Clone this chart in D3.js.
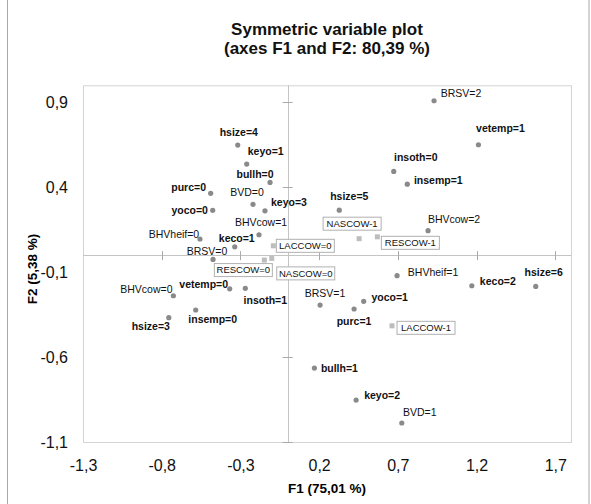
<!DOCTYPE html>
<html>
<head>
<meta charset="utf-8">
<script src="https://cdn.jsdelivr.net/npm/d3@7"></script>
<style>
  body { margin: 0; background: #fff; }
  text { font-family: "Liberation Sans", Arial, sans-serif; }
</style>
</head>
<body>
<div id="chart"></div>
<script>
// Active variable categories (circles)
var catNames = ["hsize=4", "keyo=1", "bullh=0", "purc=0", "BVD=0", "keyo=3", "yoco=0",
  "BHVcow=1", "BHVheif=0", "keco=1", "BRSV=0", "BRSV=2", "vetemp=1", "insoth=0",
  "insemp=1", "hsize=5", "BHVcow=2", "BHVcow=0", "vetemp=0", "insoth=1", "hsize=3",
  "insemp=0", "BRSV=1", "bullh=1", "BHVheif=1", "keco=2", "hsize=6", "yoco=1",
  "purc=1", "keyo=2", "BVD=1"];
var catF1 = [-0.317, -0.260, -0.112, -0.489, -0.220, -0.144, -0.476, -0.182, -0.557, -0.336,
  -0.474, 0.930, 1.212, 0.674, 0.760, 0.328, 0.892, -0.726, -0.368, -0.269, -0.755,
  -0.584, 0.206, 0.170, 0.695, 1.170, 1.576, 0.483, 0.422, 0.435, 0.725];
var catF2 = [0.648, 0.536, 0.428, 0.364, 0.299, 0.261, 0.264, 0.120, 0.095, 0.049,
  -0.025, 0.909, 0.650, 0.493, 0.418, 0.265, 0.144, -0.239, -0.198, -0.195, -0.368,
  -0.323, -0.294, -0.665, -0.121, -0.180, -0.184, -0.272, -0.317, -0.853, -0.988];

// Supplementary categories (squares, boxed labels)
var supNames = ["LACCOW=0", "RESCOW=0", "NASCOW=0", "NASCOW-1", "RESCOW-1", "LACCOW-1"];
var supF1 = [-0.091, -0.148, -0.101, 0.454, 0.570, 0.663];
var supF2 = [0.055, -0.029, -0.019, 0.097, 0.108, -0.416];

var xTicks = [-1.3, -0.8, -0.3, 0.2, 0.7, 1.2, 1.7];
var yTicks = [0.9, 0.4, -0.1, -0.6, -1.1];

// label offsets (px) from the marker
var labelOffset = {
  "hsize=4": [1, -13], "keyo=1": [19, -13], "bullh=0": [-15, -8], "purc=0": [-22, -6],
  "BVD=0": [-6, -12], "keyo=3": [24, -8], "yoco=0": [-23, 0], "BHVcow=1": [2, -12],
  "BHVheif=0": [-26, -5], "keco=1": [2, -9], "BRSV=0": [-6, -8], "BRSV=2": [27, -7],
  "vetemp=1": [22, -16], "insoth=0": [22, -14], "insemp=1": [31, -4], "hsize=5": [10, -14],
  "BHVcow=2": [26, -11], "BHVcow=0": [-27, -6], "vetemp=0": [-26, -4], "insoth=1": [20, 12],
  "hsize=3": [-18, 9], "insemp=0": [17, 9], "BRSV=1": [5, -12], "bullh=1": [25, 0],
  "BHVheif=1": [36, -3], "keco=2": [26, -4], "hsize=6": [8, -14], "yoco=1": [26, -4],
  "purc=1": [0, 12], "keyo=2": [26, -5], "BVD=1": [18, -11],
  "LACCOW=0": [32, 0], "RESCOW=0": [-21, 10], "NASCOW=0": [34, 15],
  "NASCOW-1": [-7, -15], "RESCOW-1": [33, 6], "LACCOW-1": [34, 2]
};

var svgWidth = 591, svgHeight = 504;
var plot = { left: 83, right: 571, top: 85.3, bottom: 442 };

var locale = d3.formatLocale({ decimal: ",", thousands: ".", grouping: [3], currency: ["", ""], minus: "-" });
var fmt = locale.format(".1f");

var svg = d3.select("#chart").append("svg")
  .attr("width", svgWidth)
  .attr("height", svgHeight);

// outer border
svg.append("rect")
  .attr("x", 7.5).attr("y", -2)
  .attr("width", 581.5).attr("height", svgHeight + 4)
  .attr("fill", "none").attr("stroke", "#a8a8a8");

var x = d3.scaleLinear().domain([-1.3, 1.8]).range([plot.left, plot.right]);
var y = d3.scaleLinear().domain([-1.1, 1.0]).range([plot.bottom, plot.top]);

// plot frame
svg.append("rect")
  .attr("x", plot.left + 0.5).attr("y", plot.top + 0.5)
  .attr("width", plot.right - plot.left).attr("height", plot.bottom - plot.top)
  .attr("fill", "none").attr("stroke", "#d4d4d4");

// zero lines
svg.append("line")
  .attr("x1", plot.left).attr("x2", plot.right)
  .attr("y1", Math.round(y(0)) + 0.5).attr("y2", Math.round(y(0)) + 0.5)
  .attr("stroke", "#c4c4c4");
svg.append("line")
  .attr("x1", Math.round(x(0)) + 0.5).attr("x2", Math.round(x(0)) + 0.5)
  .attr("y1", plot.top).attr("y2", plot.bottom)
  .attr("stroke", "#c4c4c4");

// tick marks on the zero lines
svg.selectAll(".xtick").data(xTicks.slice(1)).enter().append("line")
  .attr("x1", d => Math.round(x(d)) + 0.5).attr("x2", d => Math.round(x(d)) + 0.5)
  .attr("y1", y(0) - 4).attr("y2", y(0) + 5)
  .attr("stroke", "#aaa");
svg.selectAll(".ytick").data(yTicks).enter().append("line")
  .attr("x1", x(0) - 5).attr("x2", x(0) + 5)
  .attr("y1", d => Math.round(y(d)) + 0.5).attr("y2", d => Math.round(y(d)) + 0.5)
  .attr("stroke", "#aaa");

// tick labels via axes
var bottomAxis = d3.axisBottom(x).tickValues(xTicks).tickFormat(fmt).tickSize(0).tickPadding(18);
var leftAxis = d3.axisLeft(y).tickValues(yTicks).tickFormat(fmt).tickSize(0).tickPadding(15);

var gx = svg.append("g").attr("transform", `translate(0, ${plot.bottom})`).call(bottomAxis);
var gy = svg.append("g").attr("transform", `translate(${plot.left}, 0)`).call(leftAxis);
[gx, gy].forEach(function(g) {
  g.select(".domain").remove();
  g.selectAll("text")
    .attr("font-family", "'Liberation Sans', Arial, sans-serif")
    .attr("font-size", "16px")
    .attr("fill", "#111");
});

// title
var title = svg.append("text")
  .attr("text-anchor", "middle")
  .attr("font-size", "17px")
  .attr("font-weight", "bold")
  .attr("fill", "#111");
title.append("tspan").attr("x", 327).attr("y", 35).text("Symmetric variable plot");
title.append("tspan").attr("x", 327).attr("y", 54).text("(axes F1 and F2: 80,39 %)");

// axis titles
svg.append("text")
  .attr("x", 327).attr("y", 493)
  .attr("text-anchor", "middle")
  .attr("font-size", "13.5px").attr("font-weight", "bold")
  .text("F1 (75,01 %)");
svg.append("text")
  .attr("transform", "translate(37, 269) rotate(-90)")
  .attr("text-anchor", "middle")
  .attr("font-size", "13.5px").attr("font-weight", "bold")
  .text("F2 (5,38 %)");

// active categories
var cats = catNames.map((n, i) => ({ name: n, f1: catF1[i], f2: catF2[i] }));

svg.selectAll(".pt").data(cats).enter().append("circle")
  .attr("cx", d => x(d.f1))
  .attr("cy", d => y(d.f2))
  .attr("r", 2.6)
  .attr("fill", "#8a8a8a");

svg.selectAll(".lbl").data(cats).enter().append("text")
  .attr("x", d => x(d.f1) + labelOffset[d.name][0])
  .attr("y", d => y(d.f2) + labelOffset[d.name][1])
  .attr("dy", "0.35em")
  .attr("text-anchor", "middle")
  .attr("font-size", "10.5px")
  .attr("font-weight", d => /^[a-z]/.test(d.name) ? "bold" : "normal")
  .attr("fill", "#111")
  .text(d => d.name);

// supplementary categories
var sups = supNames.map((n, i) => ({ name: n, f1: supF1[i], f2: supF2[i] }));

svg.selectAll(".sq").data(sups).enter().append("rect")
  .attr("x", d => x(d.f1) - 2.5)
  .attr("y", d => y(d.f2) - 2.5)
  .attr("width", 5).attr("height", 5)
  .attr("fill", "#bdbdbd");

var boxes = svg.selectAll(".box").data(sups).enter().append("g")
  .attr("transform", d => `translate(${x(d.f1) + labelOffset[d.name][0]}, ${y(d.f2) + labelOffset[d.name][1]})`);

boxes.append("rect")
  .attr("x", -29).attr("y", -6.5)
  .attr("width", 58).attr("height", 13)
  .attr("fill", "#fff")
  .attr("stroke", "#b0b0b0");

boxes.append("text")
  .attr("text-anchor", "middle")
  .attr("dy", "0.35em")
  .attr("font-size", "9.5px")
  .attr("fill", "#111")
  .text(d => d.name);
</script>
</body>
</html>
